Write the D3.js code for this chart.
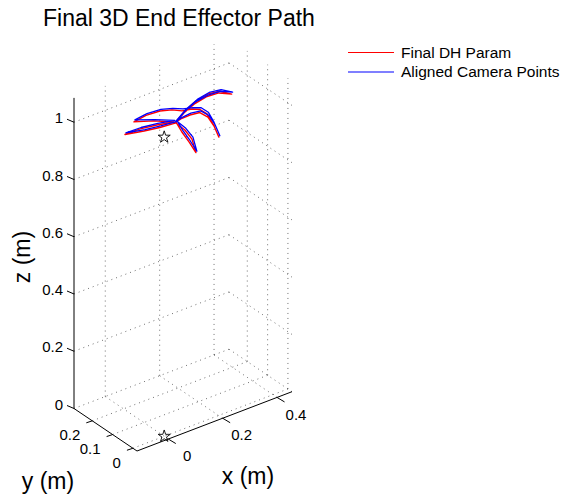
<!DOCTYPE html>
<html>
<head>
<meta charset="utf-8">
<script src="https://cdn.jsdelivr.net/npm/d3@7"></script>
<style>
	body { margin: 0; background: #fff; }
	text { font-family: "Liberation Sans", Arial, sans-serif; fill: #000; }
</style>
</head>
<body>
<script>
// axis ranges and ticks
const xTicks = [0, 0.2, 0.4];
const yTicks = [0, 0.1, 0.2];
const zTicks = [0, 0.2, 0.4, 0.6, 0.8, 1];
const xTickLabels = ['0', '0.2', '0.4'];
const yTickLabels = ['0', '0.1', '0.2'];
const zTickLabels = ['0', '0.2', '0.4', '0.6', '0.8', '1'];

// Final DH Param (red)
const dhX = [0.119, 0.175, 0.225, 0.268, 0.296, 0.313, 0.287, 0.257, 0.214, 0.165, 0.125, 0.124, 0.136, 0.145, 0.153, 0.138, 0.122, 0.078, 0.039, -0.018, 0.037, 0.080, 0.120, 0.077, 0.027, 0.078, 0.116, 0.148, 0.168, 0.198, 0.225, 0.236, 0.245, 0.243, 0.240, 0.237, 0.214, 0.182, 0.147, 0.119];
const dhY = [0.107, 0.132, 0.145, 0.143, 0.122, 0.087, 0.115, 0.133, 0.135, 0.124, 0.109, 0.079, 0.059, 0.038, 0.068, 0.083, 0.105, 0.126, 0.151, 0.169, 0.168, 0.143, 0.113, 0.154, 0.185, 0.194, 0.176, 0.160, 0.137, 0.128, 0.125, 0.105, 0.087, 0.056, 0.076, 0.102, 0.111, 0.117, 0.115, 0.107];
const dhZ = [1.00, 1.01, 1.02, 1.03, 1.04, 1.04, 1.04, 1.03, 1.02, 1.01, 1.00, 0.98, 0.95, 0.92, 0.95, 0.98, 1.00, 0.99, 0.98, 0.98, 0.98, 0.99, 1.00, 1.00, 1.00, 1.00, 1.01, 1.01, 1.01, 1.01, 1.00, 0.99, 0.96, 0.93, 0.96, 0.98, 1.00, 1.00, 1.00, 1.00];

// Aligned Camera Points (blue)
const camX = [0.121, 0.177, 0.228, 0.270, 0.299, 0.315, 0.289, 0.259, 0.216, 0.167, 0.127, 0.126, 0.138, 0.147, 0.155, 0.140, 0.124, 0.080, 0.041, -0.016, 0.039, 0.082, 0.122, 0.079, 0.029, 0.080, 0.118, 0.150, 0.170, 0.200, 0.228, 0.239, 0.247, 0.245, 0.242, 0.239, 0.216, 0.184, 0.149, 0.121];
const camY = [0.105, 0.130, 0.142, 0.140, 0.120, 0.085, 0.112, 0.131, 0.133, 0.122, 0.107, 0.077, 0.057, 0.036, 0.066, 0.081, 0.103, 0.124, 0.149, 0.167, 0.166, 0.141, 0.111, 0.152, 0.183, 0.192, 0.174, 0.158, 0.135, 0.126, 0.123, 0.103, 0.085, 0.054, 0.074, 0.100, 0.109, 0.115, 0.113, 0.105];
const camZ = [1.006, 1.015, 1.026, 1.036, 1.045, 1.047, 1.046, 1.035, 1.027, 1.016, 1.005, 0.986, 0.955, 0.925, 0.957, 0.986, 1.006, 0.996, 0.985, 0.986, 0.985, 0.996, 1.006, 1.005, 1.007, 1.006, 1.016, 1.015, 1.017, 1.015, 1.006, 0.996, 0.966, 0.935, 0.966, 0.986, 1.006, 1.007, 1.005, 1.006];

// star markers
const starX = [0, 0];
const starY = [0, 0];
const starZ = [0, 1.045];

const xmin = -0.115, xmax = 0.455;
const ymin = -0.02, ymax = 0.29;
const zmin = 0, zmax = 1.085;

const width = 577;
const height = 500;

// screen placement of the 3D box (front-bottom corner and edge vectors)
const corner = [137, 451];
const ex = [155, -59.3];
const ey = [-63, -42.5];
const ez = [0, -310.6];

const xScale = d3.scaleLinear().domain([xmin, xmax]).range([0, 1]);
const yScale = d3.scaleLinear().domain([ymin, ymax]).range([0, 1]);
const zScale = d3.scaleLinear().domain([zmin, zmax]).range([0, 1]);

function proj(x, y, z) {
	const u = xScale(x), v = yScale(y), w = zScale(z);
	return [corner[0] + u * ex[0] + v * ey[0] + w * ez[0],
	        corner[1] + u * ex[1] + v * ey[1] + w * ez[1]];
}

const svg = d3.select('body').append('svg')
	.attr('width', width)
	.attr('height', height);

// grid
const grid = svg.append('g')
	.attr('stroke', '#333')
	.attr('stroke-width', 0.7)
	.attr('stroke-dasharray', '1,4')
	.attr('fill', 'none');

function seg(p, q) {
	grid.append('line')
		.attr('x1', p[0]).attr('y1', p[1])
		.attr('x2', q[0]).attr('y2', q[1]);
}

xTicks.forEach(function(t) {
	seg(proj(t, ymin, zmin), proj(t, ymax, zmin));   // floor
	seg(proj(t, ymax, zmin), proj(t, ymax, zmax));   // back wall
});
yTicks.forEach(function(t) {
	seg(proj(xmin, t, zmin), proj(xmax, t, zmin));   // floor
	seg(proj(xmax, t, zmin), proj(xmax, t, zmax));   // side wall
});
zTicks.forEach(function(t) {
	seg(proj(xmin, ymax, t), proj(xmax, ymax, t));
	seg(proj(xmax, ymax, t), proj(xmax, ymin, t));
});

// axes
const axes = svg.append('g').attr('stroke', '#000').attr('stroke-width', 1).attr('fill', 'none');
function axisLine(p, q) {
	axes.append('line').attr('x1', p[0]).attr('y1', p[1]).attr('x2', q[0]).attr('y2', q[1]);
}
axisLine(proj(xmin, ymin, zmin), proj(xmax, ymin, zmin));
axisLine(proj(xmin, ymin, zmin), proj(xmin, ymax, zmin));
axisLine(proj(xmin, ymax, zmin), proj(xmin, ymax, zmax));

const tickFont = 15;

xTicks.forEach(function(t, i) {
	const p = proj(t, ymin, zmin);
	axisLine(p, [p[0] + 7.5, p[1] + 4.5]);
	svg.append('text')
		.attr('x', p[0] + 19)
		.attr('y', p[1] + 17)
		.attr('dy', '0.35em')
		.style('text-anchor', 'middle')
		.style('font-size', tickFont + 'px')
		.text(xTickLabels[i]);
});
yTicks.forEach(function(t, i) {
	const p = proj(xmin, t, zmin);
	axisLine(p, [p[0] - 6, p[1] + 2]);
	svg.append('text')
		.attr('x', p[0] - 12)
		.attr('y', p[1] + 14)
		.attr('dy', '0.35em')
		.style('text-anchor', 'end')
		.style('font-size', tickFont + 'px')
		.text(yTickLabels[i]);
});
zTicks.forEach(function(t, i) {
	const p = proj(xmin, ymax, t);
	axisLine(p, [p[0] - 7, p[1] - 3]);
	svg.append('text')
		.attr('x', p[0] - 11)
		.attr('y', p[1] - 4)
		.attr('dy', '0.35em')
		.style('text-anchor', 'end')
		.style('font-size', tickFont + 'px')
		.text(zTickLabels[i]);
});

// paths
const line = d3.line();
function pts(xs, ys, zs) {
	return xs.map(function(d, i) { return proj(d, ys[i], zs[i]); });
}
svg.append('path')
	.attr('d', line(pts(dhX, dhY, dhZ)))
	.attr('fill', 'none')
	.attr('stroke', '#ff0000')
	.attr('stroke-width', 1.4)
	.attr('stroke-linejoin', 'round');
svg.append('path')
	.attr('d', line(pts(camX, camY, camZ)))
	.attr('fill', 'none')
	.attr('stroke', '#0000ff')
	.attr('stroke-width', 1.3)
	.attr('stroke-linejoin', 'round');

// stars
const star = d3.symbol().type(d3.symbolStar).size(45);
starX.forEach(function(d, i) {
	const p = proj(d, starY[i], starZ[i]);
	svg.append('path')
		.attr('d', star())
		.attr('transform', 'translate(' + p[0] + ',' + p[1] + ')')
		.attr('fill', 'none')
		.attr('stroke', '#000')
		.attr('stroke-width', 0.9);
});

// labels
svg.append('text')
	.attr('x', 43)
	.attr('y', 26)
	.style('font-size', '23px')
	.text('Final 3D End Effector Path');

svg.append('text')
	.attr('x', 248)
	.attr('y', 484)
	.style('text-anchor', 'middle')
	.style('font-size', '23px')
	.text('x (m)');

svg.append('text')
	.attr('x', 48)
	.attr('y', 489)
	.style('text-anchor', 'middle')
	.style('font-size', '23px')
	.text('y (m)');

svg.append('text')
	.attr('transform', 'translate(30,257) rotate(-90)')
	.style('text-anchor', 'middle')
	.style('font-size', '23px')
	.text('z (m)');

// legend
const legendItems = ['Final DH Param', 'Aligned Camera Points'];
const legendColors = ['#ff0000', '#0000ff'];
const legend = svg.append('g');
legendItems.forEach(function(d, i) {
	const yy = 52.5 + i * 19.5;
	legend.append('line')
		.attr('x1', 348).attr('x2', 394)
		.attr('y1', yy).attr('y2', yy)
		.attr('stroke', legendColors[i])
		.attr('stroke-width', 1.2);
	legend.append('text')
		.attr('x', 401)
		.attr('y', yy)
		.attr('dy', '0.35em')
		.style('font-size', '15.5px')
		.text(d);
});
</script>
</body>
</html>
